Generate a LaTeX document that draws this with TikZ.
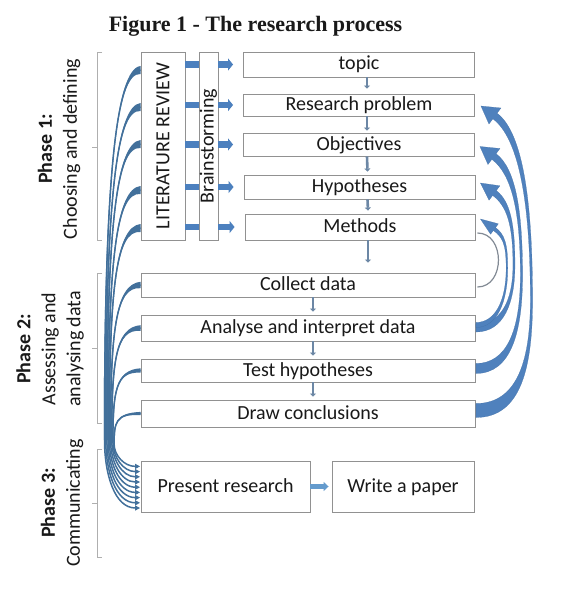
\documentclass[tikz,border=0pt]{standalone}
\usepackage{fontspec}
\setmainfont{Carlito}
\newfontfamily\titlefont{Liberation Serif}
\usetikzlibrary{arrows.meta,calc}
\definecolor{arcblue}{RGB}{79,129,189}
\definecolor{arcedge}{RGB}{68,114,168}
\definecolor{leftblue}{RGB}{66,112,155}
\definecolor{barblue}{RGB}{76,128,190}
\definecolor{presblue}{RGB}{100,155,205}
\definecolor{boxgray}{RGB}{145,145,145}
\definecolor{brgray}{RGB}{175,175,175}
\definecolor{downarr}{RGB}{108,135,165}
\definecolor{loopgray}{RGB}{130,138,148}
\definecolor{txt}{RGB}{25,25,25}
\tikzset{
 box/.style={draw=boxgray,line width=0.9pt,fill=white,inner sep=0pt,text=txt,
   font=\fontsize{20}{24}\selectfont,text height=14pt,text depth=3pt},
 vbox/.style={draw=boxgray,line width=0.9pt,fill=white,inner sep=0pt,text=txt,
   font=\fontsize{20}{24}\selectfont},
 phaselbl/.style={rotate=90,align=center,text=txt,font=\fontsize{20}{25}\selectfont,inner sep=0pt},
 bracket/.style={draw=brgray,line width=0.8pt},
 downarrow/.style={draw=downarr,line width=2.6pt,-{Triangle[length=3pt,width=6pt]}},
 bluebar/.style={draw=barblue,line width=6.5pt},
 bluearrow/.style={draw=barblue,line width=6.5pt,-{Triangle[length=5pt,width=12pt]}},
 presarrow/.style={draw=presblue,line width=5pt,-{Triangle[length=5pt,width=9pt]}},
 grayloop/.style={draw=loopgray,line width=1.2pt},
}
% right-hand curved block arrow: #1 tail, #2 head tip, #3 bulge, #4 height of bulge above tail,
% #5 half width at head, #6 half width in middle, #7 half width at tail, #8 half width of head
\newcommand\rarc[8]{%
 \fill[arcblue,draw=arcedge,line width=0.2pt,line join=round]
  let \p1=(#1), \p2=(#2) in
  ({\x2+14pt+0.6*#5pt},{\y2-10pt+0.8*#5pt})
  .. controls ({\x2+14pt+0.72*(#3-14)*1pt+0.6*#5pt},{\y2-10pt-0.54*(#3-14)*1pt+0.8*#5pt})
  and ({\x2+#3pt+#6pt},{0.5*(\y1+#4pt)+0.5*\y2}) ..
  ({\x2+#3pt+#6pt},{\y1+#4pt})
  .. controls ({\x2+#3pt+#6pt},{\y1+0.4*#4pt}) and ({\x2+#3pt-10pt},{\y1-#7pt}) ..
  ({\x1},{\y1-#7pt})
  -- ({\x1},{\y1+#7pt})
  .. controls ({\x2+#3pt-10pt-#7pt},{\y1+#7pt}) and ({\x2+#3pt-#6pt},{\y1+0.4*#4pt}) ..
  ({\x2+#3pt-#6pt},{\y1+#4pt})
  .. controls ({\x2+#3pt-#6pt},{0.5*(\y1+#4pt)+0.5*\y2})
  and ({\x2+14pt+0.72*(#3-14)*1pt-0.6*#5pt},{\y2-10pt-0.54*(#3-14)*1pt-0.8*#5pt}) ..
  ({\x2+14pt-0.6*#5pt},{\y2-10pt-0.8*#5pt})
  -- ({\x2+14pt-0.6*#8pt},{\y2-10pt-0.8*#8pt})
  -- (\p2)
  -- ({\x2+14pt+0.6*#8pt},{\y2-10pt+0.8*#8pt})
  -- cycle;
}
% left-hand curve: #1 tail, #2 head, #3 x of bundle, #4 y where it turns, #5 half width at tail
\newcommand\lcurve[5]{%
 \draw[leftblue,line width=1.5pt,-{Triangle[length=5pt,width=5pt]}]
   let \p1=(#1), \p2=(#2) in
   (\p1) .. controls ({\x1-25pt},\y1) and ({#3pt},{\y1+0.3*(-#4pt-\y1)}) .. ({#3pt},{-#4pt})
   .. controls ({#3pt},{0.5*(-#4pt+\y2)}) and ({#3pt+10pt},\y2) .. (\p2);
 \fill[leftblue] let \p1=(#1) in
   ({\x1},{\y1+#5pt}) .. controls ({\x1-25pt},{\y1+0.35*#5pt}) and ({#3pt-0.75pt},{\y1+0.3*(-#4pt-\y1)}) .. ({#3pt-0.75pt},{-#4pt})
   -- ({#3pt+0.75pt},{-#4pt}) .. controls ({#3pt+0.75pt},{\y1+0.3*(-#4pt-\y1)}) and ({\x1-25pt},{\y1-0.35*#5pt}) .. ({\x1},{\y1-#5pt}) -- cycle;
}
\begin{document}
\begin{tikzpicture}[x=1pt,y=-1pt]
\fill[white] (0,0) rectangle (564,615);
\useasboundingbox (0,0) rectangle (564,615);

\node[font=\titlefont\bfseries\fontsize{22}{26}\selectfont,anchor=base,text=txt] (title) at (255.5,32) {Figure 1 - The research process};

% brackets
\draw[bracket] (102,52) -- (97,52) -- (97,240) -- (102,240) (97,147) -- (92,147);
\draw[bracket] (102,273) -- (97,273) -- (97,423) -- (102,423) (97,348) -- (92,348);
\draw[bracket] (102,449) -- (97,449) -- (97,557) -- (102,557) (97,503) -- (92,503);

\node[phaselbl] (ph1) at (59,149) {{\bfseries Phase 1:}\\Choosing and defining};
\node[phaselbl] (ph2) at (50,349) {{\bfseries Phase 2:}\\Assessing and\\analysing data};
\node[phaselbl] (ph3) at (62,503) {{\bfseries Phase 3:}\\Communicating};

% boxes
\node[box,minimum width=231pt,minimum height=25pt] (topic) at (359,64.5) {topic};
\node[box,minimum width=231pt,minimum height=22pt] (rp) at (359,105) {Research problem};
\node[box,minimum width=231pt,minimum height=23pt] (obj) at (359,144.5) {Objectives};
\node[box,minimum width=231pt,minimum height=24pt] (hyp) at (359.5,187) {Hypotheses};
\node[box,minimum width=230pt,minimum height=26pt] (meth) at (360,227) {Methods};
\node[box,minimum width=334pt,minimum height=24pt] (collect) at (308,285) {Collect data};
\node[box,minimum width=334pt,minimum height=26pt] (analyse) at (308,328) {Analyse and interpret data};
\node[box,minimum width=334pt,minimum height=23pt] (test) at (308,370.5) {Test hypotheses};
\node[box,minimum width=334pt,minimum height=27pt] (concl) at (308,413.5) {Draw conclusions};
\node[box,minimum width=169pt,minimum height=51pt] (present) at (225.5,486.5) {Present research};
\node[box,minimum width=142pt,minimum height=51pt] (write) at (403,486.5) {Write a paper};
\node[vbox,minimum width=44pt,minimum height=188pt] (LR) at (163,146) {\rotatebox{90}{LITERATURE REVIEW}};
\node[vbox,minimum width=19pt,minimum height=188pt] (BS) at (208.5,146) {\rotatebox{90}{Brainstorming}};

% blue arrows from literature review / brainstorming
\foreach \b in {topic,rp,obj,hyp,meth}{
  \draw[bluebar] (LR.east |- \b.west) -- (BS.west |- \b.west);
  \draw[bluearrow] (BS.east |- \b.west) -- ([xshift=-10pt]\b.west);
}

% down arrows
\draw[downarrow] ([xshift=8pt]topic.south) -- ([xshift=8pt,yshift=5pt]rp.north);
\draw[downarrow] ([xshift=8pt]rp.south) -- ([xshift=8pt,yshift=2pt]obj.north);
\draw[downarrow] ([xshift=8pt]obj.south) -- ([xshift=8pt,yshift=3pt]hyp.north);
\draw[downarrow] ([xshift=8pt]hyp.south) -- ([xshift=8pt,yshift=3pt]meth.north);
\coordinate (mcEnd) at ([xshift=60pt,yshift=10pt]collect.north);
\draw[downarrow] ([xshift=8pt]meth.south) -- (mcEnd);
\draw[downarrow] ([xshift=5pt]collect.south) -- ([xshift=5pt,yshift=3pt]analyse.north);
\draw[downarrow] ([xshift=5pt]analyse.south) -- ([xshift=5pt,yshift=3pt]test.north);
\draw[downarrow] ([xshift=5pt]test.south) -- ([xshift=5pt,yshift=3pt]concl.north);

\draw[presarrow] (present.east) -- ([xshift=-3pt]write.west);

% left curves to "Present research"
\coordinate (l0) at ([yshift=76pt]LR.west);
\coordinate (l1) at ([yshift=39pt]LR.west);
\coordinate (l2) at ([yshift=2pt]LR.west);
\coordinate (l3) at ([yshift=-44pt]LR.west);
\coordinate (l4) at ([yshift=-82pt]LR.west);
\foreach \i/\s in {0/-21.5,1/-16.3,2/-11.1,3/-5.9,4/-0.7,5/4.5,6/9.7,7/14.9,8/20.1}{
  \coordinate (p\i) at ([xshift=-0.5pt,yshift=\s pt]present.west);
}
\lcurve{l0}{p0}{104.5}{440}{4}
\lcurve{l1}{p1}{105.7}{440}{4}
\lcurve{l2}{p2}{106.9}{440}{4}
\lcurve{l3}{p3}{108.1}{440}{4}
\lcurve{l4}{p4}{109.3}{440}{4}
\lcurve{collect.west}{p5}{110.5}{440}{3.2}
\lcurve{analyse.west}{p6}{111.7}{440}{2.8}
\lcurve{test.west}{p7}{112.9}{442}{2.2}
\lcurve{concl.west}{p8}{114.1}{444}{1.6}

% right curved arrows
\coordinate (hRP) at ([xshift=6pt,yshift=-1pt]rp.east);
\coordinate (hObj) at ([xshift=5pt,yshift=-2pt]obj.east);
\coordinate (hHyp) at ([xshift=5pt,yshift=4pt]hyp.east);
\coordinate (hMeth) at ([xshift=5pt,yshift=8pt]meth.east);
\coordinate (tDraw) at ([xshift=0.5pt,yshift=3pt]concl.east);
\coordinate (tTest) at ([xshift=0.5pt,yshift=2pt]test.east);
\coordinate (tAna) at ([xshift=0.5pt]analyse.east);
\coordinate (tAnb) at ([xshift=0.5pt,yshift=3pt]analyse.east);
\rarc{tDraw}{hRP}{50.5}{110}{3.5}{1.1}{7}{10}
\rarc{tTest}{hObj}{41.5}{93}{3.5}{1.1}{5}{10}
\rarc{tAna}{hHyp}{33.5}{63}{3}{1}{4}{9}
\rarc{tAnb}{hMeth}{26.5}{57}{1.8}{0.8}{2.5}{6.5}

\coordinate (gl1) at ([xshift=2pt,yshift=-6pt]meth.east);
\coordinate (gl2) at ([xshift=2pt,yshift=-2pt]collect.east);
\draw[grayloop] (gl1) .. controls +(28,0) and +(28,0) .. (gl2);
\end{tikzpicture}
\end{document}
